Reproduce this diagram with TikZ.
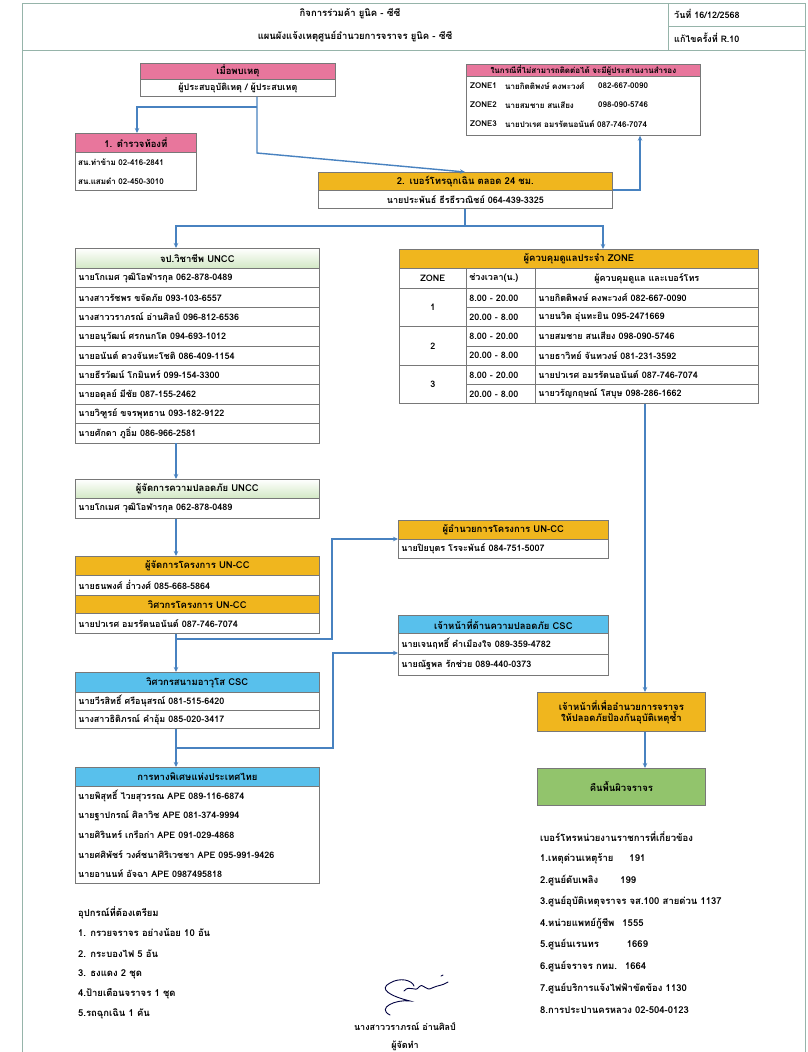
\documentclass[tikz,border=0pt]{standalone}
\usepackage{fontspec}
\setmainfont[Script=Thai]{Loma}
\usetikzlibrary{arrows.meta}
\definecolor{pinkh}{RGB}{232,118,156}
\definecolor{orah}{RGB}{240,182,30}
\definecolor{greh}{RGB}{210,232,196}
\definecolor{bluh}{RGB}{88,192,236}
\definecolor{grebox}{RGB}{146,196,108}
\definecolor{bord}{RGB}{120,120,120}
\definecolor{connc}{RGB}{72,130,192}
\definecolor{framec}{RGB}{150,180,170}
\newcommand\LC[7]{\pgfmathsetmacro\cw{#4-#2-6}\pgfmathsetmacro\ch{#5-#3}\node[#6, text width=\cw pt, minimum height=\ch pt, align=left, anchor=north west] (#1) at (#2,#3) {#7};}
\newcommand\CC[7]{\pgfmathsetmacro\cw{#4-#2-6}\pgfmathsetmacro\ch{#5-#3}\node[#6, text width=\cw pt, minimum height=\ch pt, align=center, anchor=north west] (#1) at (#2,#3) {#7};}
\newcommand\fsmall{\fontsize{8}{9.5}\selectfont\bfseries}
\newcommand\frow{\fontsize{9}{10.5}\selectfont\bfseries}
\newcommand\fhead{\fontsize{9.5}{11}\selectfont\bfseries}
\begin{document}
\begin{tikzpicture}[x=1pt,y=-1pt, font=\frow,
  cellb/.style={draw=bord, line width=0.7pt, inner ysep=0pt, inner xsep=3pt},
  hpink/.style={cellb, fill=pinkh, font=\fhead},
  horange/.style={cellb, fill=orah, font=\fhead},
  hgreen/.style={cellb, top color=white, bottom color=greh, font=\fhead},
  hblue/.style={cellb, fill=bluh, font=\fhead},
  wrow/.style={cellb, fill=white},
  gbox/.style={cellb, fill=grebox, font=\fhead},
  txt/.style={inner sep=0pt, anchor=west},
  ctxt/.style={inner sep=0pt},
  framel/.style={draw=framec, line width=0.8pt},
  conn/.style={draw=connc, line width=1.4pt, -{Stealth[length=5pt,width=4.5pt]}},
  connl/.style={draw=connc, line width=1.4pt},
  sig/.style={draw=black!75!blue, line width=0.9pt, line cap=round}
]
\useasboundingbox (0,0) rectangle (808,1052);
\fill[white] (0,0) rectangle (808,1052);
% frame and header
\draw[framel] (22,3) rectangle (805,1060);
\draw[framel] (22,50) -- (805,50);
\draw[framel] (668,3) -- (668,50);
\draw[framel] (668,26) -- (805,26);
\node[ctxt, font=\fhead] (t1) at (350,14) {กิจการร่วมค้า ยูนิค - ซีซี};
\node[ctxt, font=\fhead] (t2) at (355,37) {แผนผังแจ้งเหตุศูนย์อำนวยการจราจร ยูนิค - ซีซี};
\node[txt] (t3) at (674,14) {วันที่ 16/12/2568};
\node[txt] (t4) at (674,38) {แก้ไขครั้งที่ R.10};

% event box
\CC{evh}{140}{63}{335}{79}{hpink}{เมื่อพบเหตุ}
\CC{ev}{140}{79}{335}{96}{wrow}{ผู้ประสบอุบัติเหตุ / ผู้ประสบเหตุ}

% box 1 police
\CC{b1h}{75}{133}{196}{152}{hpink}{1. ตำรวจท้องที่}
\CC{b1}{75}{152}{196}{190}{wrow}{}
\node[txt, font=\fsmall] (b1r1) at (78,162) {สน.ท่าข้าม 02-416-2841};
\node[txt, font=\fsmall] (b1r2) at (78,181) {สน.แสมดำ 02-450-3010};

% top right box
\CC{trh}{466}{64}{700}{76}{hpink, font=\fsmall}{ในกรณีที่ไม่สามารถติดต่อได้ จะมีผู้ประสานงานสำรอง}
\CC{tr}{466}{76}{700}{135}{wrow}{}
\begin{scope}[every node/.append style={font=\fsmall}]
\node[txt] (tr1z) at (470,86) {ZONE1};
\node[txt] (tr1n) at (505,86) {นายกิตติพงษ์ คงพะวงศ์};
\node[txt] (tr1p) at (598,86) {082-667-0090};
\node[txt] (tr2z) at (470,105) {ZONE2};
\node[txt] (tr2n) at (505,105) {นายสมชาย สนเสียง};
\node[txt] (tr2p) at (598,105) {098-090-5746};
\node[txt] (tr3z) at (470,124) {ZONE3};
\node[txt] (tr3n) at (505,124) {นายปวเรศ อมรรัตนอนันต์ 087-746-7074};
\end{scope}

% box 2
\CC{b2h}{318}{172}{612}{190}{horange}{2. เบอร์โทรฉุกเฉิน ตลอด 24 ชม.}
\CC{b2}{318}{190}{612}{208}{wrow}{นายประพันธ์ ธีรธีรวณิชย์ 064-439-3325}

% UNCC list
\CC{uh}{75}{248}{319}{268}{hgreen}{จป.วิชาชีพ UNCC}
\foreach \t [count=\i] in {นายโกเมศ วุฒิโอฬารกุล 062-878-0489,นางสาวรัชพร ขจัดภัย 093-103-6557,นางสาววราภรณ์ อ่านศิลป์ 096-812-6536,นายอนุวัฒน์ ศรกนกโต 094-693-1012,นายอนันต์ ดวงจันทะโชติ 086-409-1154,นายธีรวัฒน์ โกมินทร์ 099-154-3300,นายอดุลย์ มีชัย 087-155-2462,นายวิฑูรย์ ขจรพุทธาน 093-182-9122,นายศักดา ภูอิ่ม 086-966-2581}{
  \pgfmathsetmacro\ya{268+(\i-1)*19.4}\pgfmathsetmacro\yb{\ya+19.4}
  \LC{u\i}{75}{\ya}{319}{\yb}{wrow}{\t}
}

% zone table
\CC{zh}{399}{249}{758}{268}{horange}{ผู้ควบคุมดูแลประจำ ZONE}
\CC{zc1}{399}{268}{466}{288}{wrow}{ZONE}
\LC{zc2}{466}{268}{535}{288}{wrow}{ช่วงเวลา(น.)}
\CC{zc3}{535}{268}{758}{288}{wrow}{ผู้ควบคุมดูแล และเบอร์โทร}
\CC{z1}{399}{288}{466}{326}{wrow}{1}
\CC{z2}{399}{326}{466}{365}{wrow}{2}
\CC{z3}{399}{365}{466}{403}{wrow}{3}
\LC{zt1}{466}{288}{535}{307}{wrow}{8.00 - 20.00}
\LC{zt2}{466}{307}{535}{326}{wrow}{20.00 - 8.00}
\LC{zt3}{466}{326}{535}{345.5}{wrow}{8.00 - 20.00}
\LC{zt4}{466}{345.5}{535}{365}{wrow}{20.00 - 8.00}
\LC{zt5}{466}{365}{535}{384}{wrow}{8.00 - 20.00}
\LC{zt6}{466}{384}{535}{403}{wrow}{20.00 - 8.00}
\LC{zn1}{535}{288}{758}{307}{wrow}{นายกิตติพงษ์ คงพะวงศ์ 082-667-0090}
\LC{zn2}{535}{307}{758}{326}{wrow}{นายนวิต อุ่นทะยิน 095-2471669}
\LC{zn3}{535}{326}{758}{345.5}{wrow}{นายสมชาย สนเสียง 098-090-5746}
\LC{zn4}{535}{345.5}{758}{365}{wrow}{นายธาวิทย์ จันทวงษ์ 081-231-3592}
\LC{zn5}{535}{365}{758}{384}{wrow}{นายปวเรศ อมรรัตนอนันต์ 087-746-7074}
\LC{zn6}{535}{384}{758}{403}{wrow}{นายวรัญกฤษณ์ โสบุษ 098-286-1662}

% safety manager
\CC{smh}{75}{479}{319}{498}{hgreen}{ผู้จัดการความปลอดภัย UNCC}
\LC{sm}{75}{498}{319}{518}{wrow}{นายโกเมศ วุฒิโอฬารกุล 062-878-0489}

% project manager / engineer
\CC{pm1}{75}{556}{319}{575}{horange}{ผู้จัดการโครงการ UN-CC}
\LC{pm2}{75}{575}{319}{595}{wrow}{นายธนพงศ์ อ่ำวงศ์ 085-668-5864}
\CC{pm3}{75}{595}{319}{613}{horange}{วิศวกรโครงการ UN-CC}
\LC{pm4}{75}{613}{319}{633}{wrow}{นายปวเรศ อมรรัตนอนันต์ 087-746-7074}

% director
\CC{dirh}{398}{520}{608}{539}{horange}{ผู้อำนวยการโครงการ UN-CC}
\LC{dir}{398}{539}{608}{558}{wrow}{นายปิยบุตร โรจะพันธ์ 084-751-5007}

% CSC safety
\CC{csh}{398}{615}{608}{633}{hblue}{เจ้าหน้าที่ด้านความปลอดภัย CSC}
\LC{cs1}{398}{633}{608}{654}{wrow}{นายเจนฤทธิ์ คำเมืองใจ 089-359-4782}
\LC{cs2}{398}{654}{608}{675}{wrow}{นายณัฐพล รักช่วย 089-440-0373}

% senior engineer CSC
\CC{seh}{75}{672}{319}{692}{hblue}{วิศวกรสนามอาวุโส CSC}
\LC{se1}{75}{692}{319}{710}{wrow}{นายวีรสิทธิ์ ศรีอนุสรณ์ 081-515-6420}
\LC{se2}{75}{710}{319}{728}{wrow}{นางสาวธิติภรณ์ คำอุ้ม 085-020-3417}

% EXAT
\CC{exh}{75}{767}{319}{786}{hblue}{การทางพิเศษแห่งประเทศไทย}
\CC{ex}{75}{786}{319}{883}{wrow}{}
\node[txt] (ex1) at (78,796) {นายพิสุทธิ์ ไวยสุวรรณ APE 089-116-6874};
\node[txt] (ex2) at (78,815.5) {นายฐาปกรณ์ ศิลาวิช APE 081-374-9994};
\node[txt] (ex3) at (78,835) {นายศิรินทร์ เกรือก่า APE 091-029-4868};
\node[txt] (ex4) at (78,854.5) {นายศศิพัชร์ วงศ์ชนาศิริเวชชา APE 095-991-9426};
\node[txt] (ex5) at (78,874) {นายอานนท์ อัจฉา APE 0987495818};

% right lower boxes
\CC{ob}{537}{692}{705}{731}{horange}{เจ้าหน้าที่เพื่ออำนวยการจราจร\\ให้ปลอดภัยป้องกันอุบัติเหตุซ้ำ}
\CC{gb}{537}{768}{705}{805}{gbox}{คืนพื้นผิวจราจร}

% phone list
\begin{scope}[every node/.append style={font=\fhead}]
\node[txt] (pl0) at (540,837) {เบอร์โทรหน่วยงานราชการที่เกี่ยวข้อง};
\node[txt] (pl1) at (540,859) {1.เหตุด่วนเหตุร้าย\hspace{16pt}191};
\node[txt] (pl2) at (540,880) {2.ศูนย์ดับเพลิง\hspace{22pt}199};
\node[txt] (pl3) at (540,902) {3.ศูนย์อุบัติเหตุจราจร จส.100 สายด่วน 1137};
\node[txt] (pl4) at (540,923) {4.หน่วยแพทย์กู้ชีพ\hspace{8pt}1555};
\node[txt] (pl5) at (540,944) {5.ศูนย์นเรนทร\hspace{28pt}1669};
\node[txt] (pl6) at (540,966) {6.ศูนย์จราจร กทม.\hspace{8pt}1664};
\node[txt] (pl7) at (540,988) {7.ศูนย์บริการแจ้งไฟฟ้าขัดข้อง 1130};
\node[txt] (pl8) at (540,1010) {8.การประปานครหลวง 02-504-0123};

% equipment list
\node[txt] (eq0) at (78,913) {อุปกรณ์ที่ต้องเตรียม};
\node[txt] (eq1) at (78,933) {1. กรวยจราจร อย่างน้อย 10 อัน};
\node[txt] (eq2) at (78,954) {2. กระบองไฟ 5 อัน};
\node[txt] (eq3) at (78,974) {3. ธงแดง 2 ชุด};
\node[txt] (eq4) at (78,994) {4.ป้ายเตือนจราจร 1 ชุด};
\node[txt] (eq5) at (78,1014) {5.รถฉุกเฉิน 1 คัน};
\end{scope}

% signature
\draw[sig] (390,1015) .. controls (376,1008) and (396,999) .. (410,1001) .. controls (390,996) and (378,989) .. (390,983) .. controls (400,977) and (412,980) .. (414,986);
\draw[sig] (404,991) .. controls (410,984) and (415,993) .. (419,987) .. controls (423,982) and (426,992) .. (432,988) .. controls (438,985) and (442,986) .. (448,982);
\draw[sig] (441,976) -- (443,975);
\node[ctxt] (sn) at (405,1027) {นางสาววราภรณ์ อ่านศิลป์};
\node[ctxt] (sr) at (405,1046) {ผู้จัดทำ};

% connectors
\coordinate (c1) at (257,107);
\coordinate (c2) at (257,153);
\coordinate (c3) at (465,153);
\coordinate (c4) at (137,107);
\draw[conn] (ev.south -| c1) -- (c2) -- (b2h.north -| c3);
\draw[conn] (c1) -- (c4) -- (b1h.north -| c4);
\coordinate (c5) at (640,190);
\draw[conn] (b2h.east |- c5) -- (c5) -- (tr.south -| c5);
\coordinate (c6) at (465,226);
\coordinate (c7) at (176,226);
\coordinate (c8) at (603,226);
\draw[connl] (b2.south -| c6) -- (c6);
\draw[conn] (c6) -- (c7) -- (uh.north -| c7);
\draw[conn] (c6) -- (c8) -- (zh.north -| c8);
\draw[conn] (u9.south -| c7) -- (smh.north -| c7);
\draw[conn] (sm.south -| c7) -- (pm1.north -| c7);
\coordinate (d1) at (176,639);
\coordinate (d2) at (332,639);
\coordinate (d3) at (332,539);
\draw[conn] (pm4.south -| d1) -- (seh.north -| d1);
\draw[conn] (d1) -- (d2) -- (d3) -- (dir.west |- d3);
\coordinate (e1) at (176,748);
\coordinate (e2) at (333,748);
\coordinate (e3) at (333,653);
\draw[conn] (se2.south -| e1) -- (exh.north -| e1);
\draw[conn] (e1) -- (e2) -- (e3) -- (cs1.west |- e3);
\coordinate (f1) at (645,403);
\draw[conn] (zn6.south -| f1) -- (ob.north -| f1);
\draw[conn] (ob.south -| f1) -- (gb.north -| f1);
\end{tikzpicture}
\end{document}
